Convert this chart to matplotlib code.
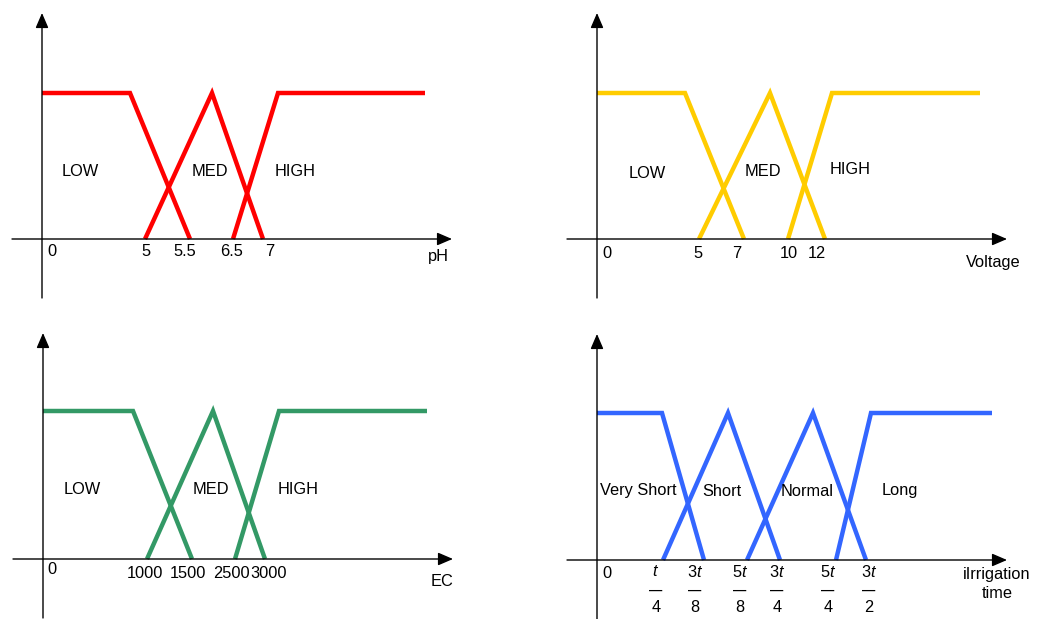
import matplotlib.pyplot as plt

plt.rcParams['font.family'] = ['Liberation Sans', 'DejaVu Sans']
plt.rcParams['mathtext.fontset'] = 'custom'
plt.rcParams['mathtext.rm'] = 'Liberation Sans'
plt.rcParams['mathtext.it'] = 'Liberation Sans:italic'

W, H = 1042, 619

# membership functions, drawn on a schematic x scale (not to value scale)
ph_low_x = [0, 88, 148]
ph_low_mu = [1, 1, 0]
ph_med_x = [103, 170, 221]
ph_med_mu = [0, 1, 0]
ph_high_x = [191, 236, 383]
ph_high_mu = [0, 1, 1]
ph_ticks = [10, 104, 143, 190, 228]
ph_tick_labels = ['0', '5', '5.5', '6.5', '7']
ph_sets = ['LOW', 'MED', 'HIGH']
ph_set_x = [38, 168, 253]

volt_low_x = [0, 88, 147]
volt_low_mu = [1, 1, 0]
volt_med_x = [102, 173, 228]
volt_med_mu = [0, 1, 0]
volt_high_x = [191, 235, 383]
volt_high_mu = [0, 1, 1]
volt_ticks = [10, 101, 140, 192, 220]
volt_tick_labels = ['0', '5', '7', '10', '12']
volt_sets = ['LOW', 'MED', 'HIGH']
volt_set_x = [50, 166, 253]

ec_low_x = [0, 90, 149]
ec_low_mu = [1, 1, 0]
ec_med_x = [104, 170, 222]
ec_med_mu = [0, 1, 0]
ec_high_x = [192, 236, 384]
ec_high_mu = [0, 1, 1]
ec_ticks = [9, 102, 145, 188, 226]
ec_tick_labels = ['0', '1000', '1500', '2500', '3000']
ec_sets = ['LOW', 'MED', 'HIGH']
ec_set_x = [39, 168, 255]

irr_vshort_x = [0, 65, 107]
irr_vshort_mu = [1, 1, 0]
irr_short_x = [66, 131, 183]
irr_short_mu = [0, 1, 0]
irr_normal_x = [150, 216, 269]
irr_normal_mu = [0, 1, 0]
irr_long_x = [239, 274, 395]
irr_long_mu = [0, 1, 1]
irr_ticks = [59, 98, 143, 180, 231, 272]
irr_tick_num = ['$t$', '3$t$', '5$t$', '3$t$', '5$t$', '3$t$']
irr_tick_den = ['4', '8', '8', '4', '4', '2']
irr_sets = ['Very Short', 'Short', 'Normal', 'Long']
irr_set_x = [41, 125, 210, 303]


def make_axes(fig, ox, oy, top):
    """Axes where x is in schematic units and y is membership; origin at pixel (ox, oy)."""
    left, right = ox - 35, ox + 440
    upper, lower = oy - 235, oy + 65
    ax = fig.add_axes([left / W, 1 - lower / H, (right - left) / W, (lower - upper) / H])
    ax.set_xlim(-35, 440)
    ax.set_ylim(-65 / top, 235 / top)
    ax.axis('off')
    arrow = dict(arrowstyle='-|>,head_length=0.65,head_width=0.28', lw=1, color='black',
                 shrinkA=0, shrinkB=0, mutation_scale=14)
    ax.annotate('', xy=(410, 0), xytext=(-30, 0), arrowprops=arrow)
    ax.annotate('', xy=(0, 226 / top), xytext=(0, -59 / top), arrowprops=arrow)
    return ax


def draw_curves(ax, curves, color):
    for xs, mus in curves:
        ax.plot(xs, mus, color=color, lw=3.2, solid_joinstyle='miter', solid_capstyle='butt',
                clip_on=False)


fig = plt.figure(figsize=(W / 100, H / 100), dpi=100)
fs = 11.8

# pH
ax = make_axes(fig, 42, 239, 146)
draw_curves(ax, [(ph_low_x, ph_low_mu), (ph_med_x, ph_med_mu), (ph_high_x, ph_high_mu)], '#FF0000')
for p, lab in zip(ph_ticks, ph_tick_labels):
    ax.text(p, -12 / 146, lab, ha='center', va='center', fontsize=fs)
for p, lab in zip(ph_set_x, ph_sets):
    ax.text(p, 68 / 146, lab, ha='center', va='center', fontsize=fs)
ax.text(396, -17 / 146, 'pH', ha='center', va='center', fontsize=fs)

# Voltage
ax = make_axes(fig, 597, 239, 146)
draw_curves(ax, [(volt_low_x, volt_low_mu), (volt_med_x, volt_med_mu), (volt_high_x, volt_high_mu)], '#FFCC00')
for p, lab in zip(volt_ticks, volt_tick_labels):
    ax.text(p, -15 / 146, lab, ha='center', va='center', fontsize=fs)
for p, lab, yy in zip(volt_set_x, volt_sets, [65, 68, 69]):
    ax.text(p, yy / 146, lab, ha='center', va='center', fontsize=fs)
ax.text(396, -23 / 146, 'Voltage', ha='center', va='center', fontsize=fs)

# EC
ax = make_axes(fig, 43, 559, 148)
draw_curves(ax, [(ec_low_x, ec_low_mu), (ec_med_x, ec_med_mu), (ec_high_x, ec_high_mu)], '#339966')
for p, lab in zip(ec_ticks, ec_tick_labels):
    yy = -10 if lab == '0' else -15
    ax.text(p, yy / 148, lab, ha='center', va='center', fontsize=fs)
for p, lab in zip(ec_set_x, ec_sets):
    ax.text(p, 70 / 148, lab, ha='center', va='center', fontsize=fs)
ax.text(399, -23 / 148, 'EC', ha='center', va='center', fontsize=fs)

# Irrigation time
ax = make_axes(fig, 597, 560, 147)
draw_curves(ax, [(irr_vshort_x, irr_vshort_mu), (irr_short_x, irr_short_mu),
                 (irr_normal_x, irr_normal_mu), (irr_long_x, irr_long_mu)], '#3366FF')
ax.text(10, -13 / 147, '0', ha='center', va='center', fontsize=fs)
for p, num, den in zip(irr_ticks, irr_tick_num, irr_tick_den):
    ax.text(p, -12 / 147, num, ha='center', va='center', fontsize=fs)
    ax.text(p, -31 / 147, '\u2014', ha='center', va='center', fontsize=9.5, fontweight='bold')
    ax.text(p, -47 / 147, den, ha='center', va='center', fontsize=fs)
for p, lab in zip(irr_set_x, irr_sets):
    ax.text(p, 69 / 147, lab, ha='center', va='center', fontsize=fs)
ax.text(400, -24 / 147, 'iIrrigation\ntime', ha='center', va='center', fontsize=fs,
        linespacing=1.25)

fig.savefig('out.png', dpi=100)
